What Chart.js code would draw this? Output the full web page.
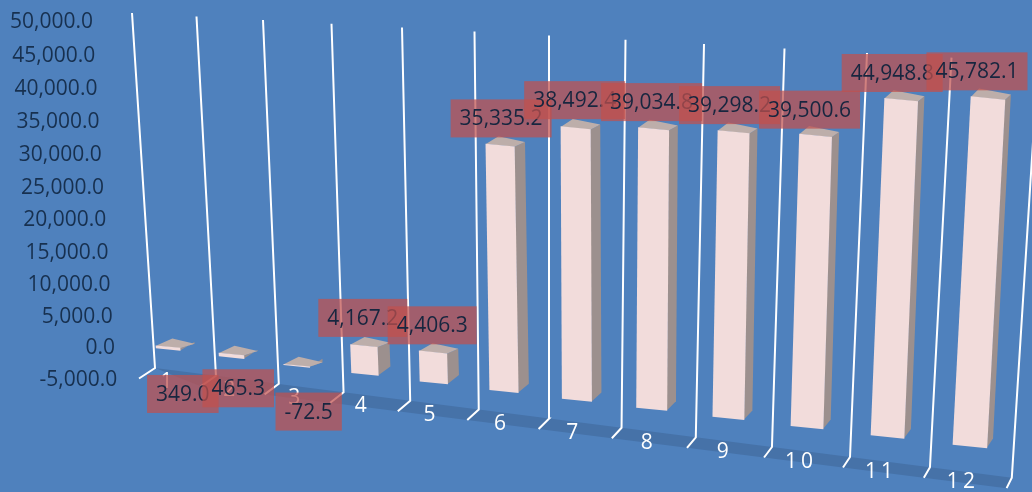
<!DOCTYPE html>
<html>
<head>
<meta charset="utf-8">
<style>
  html, body { margin: 0; padding: 0; background: #4f81bd; overflow: hidden; }
  canvas { display: block; }
</style>
<script src="https://cdn.jsdelivr.net/npm/chart.js@4"></script>
</head>
<body>
<canvas id="grafico" width="1032" height="492"></canvas>
<script>
const categories = ['1', '2', '3', '4', '5', '6', '7', '8', '9', '10', '11', '12'];
const values = [349.0, 465.3, -72.5, 4167.2, 4406.3, 35335.2, 38492.4, 39034.8, 39298.2, 39500.6, 44948.8, 45782.1];
const axisMin = -5000;
const axisMax = 50000;
const axisStep = 5000;

// Label box offset from the top of each bar
const labelOffsets = [[15, 47], [7, 34], [12, 46], [0, -28], [0, -27], [1, -27], [-1, -28], [-2, -27], [-4, -27], [-6, -26], [-9, -27], [-11, -27]];

const AXIS_TOP = 19.5;
const AXIS_BOTTOM = 377;
const FONT = '21px "Open Sans"';

// Perspective of the Excel 3D chart. k is the distance along the floor.
const wallBottomX = k => 155 + 60 * k + 0.95 * k * k;
const wallBottomY = k => 368 + 7.7 * k + 0.12 * k * k;
const wallTopX = k => 132 + 63.5 * k + 1.0 * k * k;
const wallTopY = k => 13 + 3.4 * k + 0.06 * k * k;
const tipX = k => wallBottomX(k) - (16 - 0.9 * k);
const tipY = k => wallBottomY(k) + 10.5;

const barWidth = k => 24 + 0.9 * k;
const barLeft = k => 156 + 62 * k + 0.95 * k * k;
const barBaseLeft = k => 348 + 8 * k + 0.07 * k * k;
const barScale = k => 0.00642 + 0.000107 * k;
const barLean = k => 0.0113 * (k - 6.4);
const BAR_TILT = 0.1;
const barBaseY = k => barBaseLeft(k) + BAR_TILT * barWidth(k) / 2;

// Pixel height on the page to the units of the value axis
const toAxis = py => axisMin + (AXIS_BOTTOM - py) / (AXIS_BOTTOM - AXIS_TOP) * (axisMax - axisMin);

// One dataset per bar because the width changes with the depth
const barDatasets = values.map((v, k) => {
    const base = barBaseY(k);
    return {
        type: 'bar',
        data: [{ x: barLeft(k) + barWidth(k) / 2, y: [toAxis(base), toAxis(base - v * barScale(k))] }],
        barThickness: barWidth(k),
        grouped: false,
        backgroundColor: '#f2dcdb',
        borderWidth: 0,
        clip: false,
        order: 1
    };
});

const wallDatasets = [];
for (let k = 0; k <= 12; k++) {
    wallDatasets.push({
        type: 'line',
        data: [
            { x: tipX(k), y: toAxis(tipY(k)) },
            { x: wallBottomX(k), y: toAxis(wallBottomY(k)) },
            { x: wallTopX(k), y: toAxis(wallTopY(k)) }
        ],
        borderColor: '#ffffff',
        borderWidth: 2,
        pointRadius: 0,
        tension: 0,
        clip: false,
        order: 2
    });
}

function polygon(ctx, pts, color) {
    ctx.fillStyle = color;
    ctx.beginPath();
    pts.forEach((p, i) => i ? ctx.lineTo(p[0], p[1]) : ctx.moveTo(p[0], p[1]));
    ctx.closePath();
    ctx.fill();
}

const efecto3d = {
    id: 'efecto3d',
    beforeDatasetsDraw(chart) {
        // Dark band of the floor
        const pts = [];
        for (let k = 0; k <= 12; k++) pts.push([wallBottomX(k), wallBottomY(k)]);
        for (let k = 12; k >= 1; k--) pts.push([tipX(k), tipY(k)]);
        polygon(chart.ctx, pts, '#4672a8');
    },
    beforeDatasetDraw(chart, args) {
        if (args.meta.type !== 'bar') return;
        const ctx = chart.ctx;
        const el = args.meta.data[0];
        const k = args.index;
        const sx = barLean(k);
        ctx.save();
        // Lean and tilt the bar the way the perspective does
        ctx.transform(1, BAR_TILT, -sx, 1, sx * el.base, -BAR_TILT * el.x);
        const left = el.x - el.width / 2;
        const right = el.x + el.width / 2;
        const top = Math.min(el.y, el.base);
        const bottom = Math.max(el.y, el.base);
        const dx = 15 - 0.85 * k;
        polygon(ctx, [[right, top], [right + dx, top - 6], [right + dx, bottom - 10], [right, bottom]], '#9c908e');
        polygon(ctx, [[left, top], [right, top], [right + dx, top - 6], [left + dx + 2, top - 9]], '#bdaeaa');
    },
    afterDatasetDraw(chart, args) {
        if (args.meta.type === 'bar') chart.ctx.restore();
    },
    afterDatasetsDraw(chart) {
        const ctx = chart.ctx;
        const yScale = chart.scales.y;
        ctx.save();
        ctx.textBaseline = 'middle';
        ctx.font = FONT;

        // Value axis, it follows the perspective a little
        ctx.textAlign = 'right';
        ctx.fillStyle = '#17304f';
        yScale.ticks.forEach((tick, i) => {
            const t = (tick.value - 22500) / 27500;
            const y = yScale.getPixelForTick(i) + 3 + 3 * (1 - t * t);
            ctx.fillText(tick.value.toLocaleString('en-US', { minimumFractionDigits: 1, maximumFractionDigits: 1 }), 115 - tick.value * 0.00044, y);
        });

        // Category labels on the floor
        ctx.textAlign = 'center';
        ctx.fillStyle = '#ffffff';
        categories.forEach((c, k) => {
            ctx.letterSpacing = c.length > 1 ? '4px' : '0px';
            ctx.fillText(c, (wallBottomX(k) + wallBottomX(k + 1)) / 2 - 19 + k, (wallBottomY(k) + wallBottomY(k + 1)) / 2 + 10);
        });
        ctx.letterSpacing = '0px';

        // Data labels, each box goes over the previous text
        values.forEach((v, k) => {
            const el = chart.getDatasetMeta(k).data[0];
            const h = Math.abs(el.y - el.base);
            const text = v.toLocaleString('en-US', { minimumFractionDigits: 1, maximumFractionDigits: 1 });
            const w = ctx.measureText(text).width + 18;
            const top = Math.min(el.y, el.base);
            const cx = el.x + barLean(k) * h + labelOffsets[k][0];
            const cy = top + labelOffsets[k][1];
            ctx.fillStyle = 'rgba(192, 80, 77, 0.72)';
            ctx.fillRect(cx - w / 2, cy - 19, w, 38);
            ctx.fillStyle = '#17263f';
            ctx.fillText(text, cx, cy + 1);
        });
        ctx.restore();
    }
};

new Chart(document.getElementById('grafico'), {
    data: { datasets: barDatasets.concat(wallDatasets) },
    plugins: [efecto3d],
    options: {
        responsive: false,
        animation: false,
        layout: { padding: { top: AXIS_TOP, bottom: 492 - AXIS_BOTTOM, left: 0, right: 0 } },
        plugins: { legend: { display: false }, tooltip: { enabled: false } },
        scales: {
            x: { type: 'linear', min: 0, max: 1032, offset: false, display: false },
            y: {
                type: 'linear',
                min: axisMin,
                max: axisMax,
                afterFit(scale) { scale.width = 0; },
                ticks: { display: false, stepSize: axisStep },
                grid: { display: false },
                border: { display: false }
            }
        }
    }
});
</script>
</body>
</html>
